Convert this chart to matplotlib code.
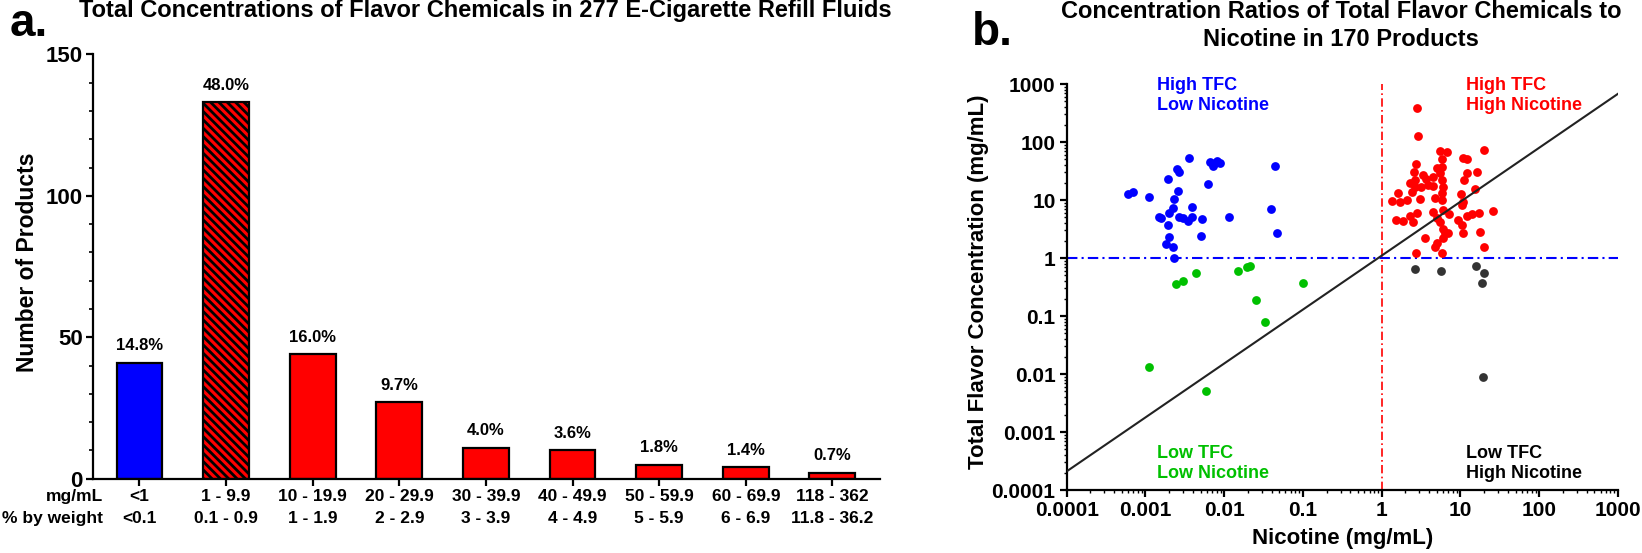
import matplotlib
matplotlib.use('Agg')
import matplotlib.pyplot as plt
import numpy as np
from matplotlib.ticker import FixedLocator, MultipleLocator, NullFormatter, LogLocator

plt.rcParams['font.family'] = ['Liberation Sans', 'DejaVu Sans']
plt.rcParams['font.weight'] = 'bold'
plt.rcParams['hatch.linewidth'] = 2.0

# ---------------- Panel a data ----------------
mg_labels = ['<1', '1 - 9.9', '10 - 19.9', '20 - 29.9', '30 - 39.9', '40 - 49.9',
             '50 - 59.9', '60 - 69.9', '118 - 362']
wt_labels = ['<0.1', '0.1 - 0.9', '1 - 1.9', '2 - 2.9', '3 - 3.9', '4 - 4.9',
             '5 - 5.9', '6 - 6.9', '11.8 - 36.2']
counts = [41, 133, 44, 27, 11, 10, 5, 4, 2]
pct_labels = ['14.8%', '48.0%', '16.0%', '9.7%', '4.0%', '3.6%', '1.8%', '1.4%', '0.7%']

# ---------------- Panel b data ----------------
blue_nic = [0.000605, 0.000702, 0.00111, 0.00192, 0.00254, 0.00269, 0.00357, 0.0066,
            0.00728, 0.00804, 0.00885, 0.00764, 0.0442, 0.00617, 0.00257, 0.00232,
            0.00222, 0.00201, 0.00386, 0.00149, 0.00157, 0.00269, 0.00303, 0.00344,
            0.00387, 0.00518, 0.0115, 0.0396, 0.0465, 0.00192, 0.00201, 0.00507,
            0.00181, 0.00224, 0.00232]
blue_tfc = [12.5, 13.7, 11.4, 23, 34.2, 30.7, 53.6, 44.6,
            38.6, 47, 44, 43, 39, 18.7, 14.3, 10.5,
            7.2, 5.9, 7.5, 5.04, 4.8, 5.15, 4.84, 4.4,
            5.04, 4.65, 5.04, 7.0, 2.67, 3.7, 2.28, 2.4,
            1.72, 1.55, 1.01]

green_nic = [0.00242, 0.00303, 0.00443, 0.0148, 0.0193, 0.0213, 0.0254, 0.033,
             0.00111, 0.00593, 0.1]
green_tfc = [0.356, 0.40, 0.56, 0.60, 0.69, 0.73, 0.189, 0.078,
             0.0131, 0.00504, 0.37]

black_nic = [2.62, 5.6, 15.7, 19.9, 18.6, 19.2]
black_tfc = [0.655, 0.59, 0.72, 0.55, 0.375, 0.009]

red_nic = [2.83, 2.86, 5.5, 6.7, 5.9, 10.7, 12.0, 20.1, 2.73, 2.57, 4.99, 5.78, 5.5,
           3.38, 2.65, 3.66, 4.53, 2.29, 2.65, 3.13, 3.91, 4.53, 5.78, 6.07, 12.0,
           11.2, 16.4, 15.3, 10.2, 5.78, 2.4, 2.08, 3.06, 4.75, 5.78, 1.71, 10.9,
           10.4, 2.78, 2.29, 4.53, 6.07, 7.2, 13.9, 17.2, 25.7, 12.0, 5.0, 1.88,
           2.52, 5.5, 9.4, 6.07, 10.4, 17.7, 10.9, 6.4, 7.0, 6.07, 3.55, 5.0, 4.75,
           20.1, 2.73, 5.78, 1.35, 1.5, 1.6]
red_tfc = [391, 125, 70, 68, 51, 54, 50, 72.8, 41.8, 30.8, 35.1, 37.6, 28.8,
           27, 22.1, 23, 25.2, 19.4, 17, 17, 18.2, 17.4, 22.1, 17, 28.8,
           22.1, 30, 15.3, 12.7, 13, 13.9, 10, 10.3, 10.7, 10, 9.4, 9.4,
           8.2, 5.9, 5.3, 6.3, 6.7, 5.7, 5.7, 5.9, 6.5, 5.2, 4.8, 4.3,
           4.1, 4.1, 4.5, 3.2, 3.7, 2.84, 2.73, 2.66, 2.66, 2.18, 2.18, 1.84, 1.57,
           1.57, 1.24, 1.24, 9.5, 4.6, 13]

# power-law guide line: TFC = fit_a * nicotine ** fit_b
fit_a = 1.1
fit_b = 0.93

x_ticks_b = [0.0001, 0.001, 0.01, 0.1, 1, 10, 100, 1000]
x_ticklabels_b = ['0.0001', '0.001', '0.01', '0.1', '1', '10', '100', '1000']

W, H = 1642, 553
fig = plt.figure(figsize=(W / 100, H / 100), dpi=100)

# ================= Panel a =================
axa = fig.add_axes([92.7 / W, 1 - 478.7 / H, (880 - 92.7) / W, (478.7 - 54.4) / H])
xpos = np.arange(len(counts))
bar_colors = ['#0000ff'] + ['#ff0000'] * (len(counts) - 1)
bars = axa.bar(xpos, counts, width=0.53, color=bar_colors, edgecolor='black',
               linewidth=1.6, zorder=2)
bars[1].set_hatch('\\\\\\\\')
for x, c, lab in zip(xpos, counts, pct_labels):
    axa.annotate(lab, (x, c), xytext=(0, 7), textcoords='offset points',
                 ha='center', va='bottom', fontsize=12, fontweight='bold')
axa.set_xlim(-0.54, 8.55)
axa.set_ylim(0, 150)
axa.spines['top'].set_visible(False)
axa.spines['right'].set_visible(False)
axa.spines['left'].set_linewidth(1.6)
axa.spines['bottom'].set_linewidth(1.6)
axa.yaxis.set_major_locator(FixedLocator([0, 50, 100, 150]))
axa.yaxis.set_minor_locator(MultipleLocator(10))
axa.tick_params(axis='y', which='major', labelsize=16, length=5, width=1.6, pad=2)
axa.tick_params(axis='y', which='minor', length=3, width=1.2)
axa.set_xticks(xpos)
axa.set_xticklabels([])
axa.tick_params(axis='x', which='major', length=5, width=1.6)
trans = axa.get_xaxis_transform()
row1_y = (478.7 - 496.7) / (478.7 - 54.4)
row2_y = (478.7 - 518.3) / (478.7 - 54.4)
for x, m, w in zip(xpos, mg_labels, wt_labels):
    axa.text(x, row1_y, m, transform=trans, ha='center', va='center', fontsize=12.5,
             fontweight='bold')
    axa.text(x, row2_y, w, transform=trans, ha='center', va='center', fontsize=12.5,
             fontweight='bold')
lab_x = (103 - 92.7) / (880 - 92.7)
axa.text(lab_x, row1_y, 'mg/mL', transform=axa.transAxes, ha='right', va='center',
         fontsize=12.5, fontweight='bold')
axa.text(lab_x, row2_y, '% by weight', transform=axa.transAxes, ha='right', va='center',
         fontsize=12.5, fontweight='bold')
fig.text(27 / W, 1 - 262 / H, 'Number of Products', rotation=90, ha='center',
         va='center', fontsize=16.5, fontweight='bold')
fig.text(485 / W, 1 - 17 / H, 'Total Concentrations of Flavor Chemicals in 277 E-Cigarette Refill Fluids',
         ha='center', va='baseline', fontsize=17, fontweight='bold')
fig.text(10 / W, 1 - 36 / H, 'a.', ha='left', va='baseline', fontsize=33, fontweight='bold')

# ================= Panel b =================
axb = fig.add_axes([1066.7 / W, 1 - 490 / H, (1618 - 1066.7) / W, (490 - 84) / H])
axb.set_xscale('log')
axb.set_yscale('log')
axb.set_xlim(1e-4, 1e3)
axb.set_ylim(1e-4, 1e3)
ms = 40
axb.scatter(blue_nic, blue_tfc, s=ms, color='#0000ff', linewidths=0, zorder=3)
axb.scatter(red_nic, red_tfc, s=ms, color='#ff0000', linewidths=0, zorder=3)
axb.scatter(green_nic, green_tfc, s=ms, color='#00c000', linewidths=0, zorder=3)
axb.scatter(black_nic, black_tfc, s=ms, color='#333333', linewidths=0, zorder=3)
xl = np.logspace(-4, 3, 100)
axb.plot(xl, fit_a * xl ** fit_b, color='#222222', lw=1.5, zorder=4)
axb.axvline(1, color='#ff0000', lw=1.2, ls=(0, (5, 2, 1, 2)), zorder=2)
axb.axhline(1, color='#0000ff', lw=1.5, ls=(0, (5, 2, 1, 2)), zorder=2)
axb.spines['top'].set_visible(False)
axb.spines['right'].set_visible(False)
axb.spines['left'].set_linewidth(1.6)
axb.spines['bottom'].set_linewidth(1.6)
for axis in (axb.xaxis, axb.yaxis):
    axis.set_major_locator(FixedLocator(x_ticks_b))
    axis.set_minor_locator(LogLocator(base=10, subs=np.arange(2, 10)))
    axis.set_minor_formatter(NullFormatter())
axb.set_xticklabels(x_ticklabels_b)
axb.set_yticklabels(x_ticklabels_b)
axb.tick_params(which='major', labelsize=15, length=5, width=1.6, pad=3)
axb.tick_params(which='minor', length=2.5, width=1.0)
for lbl in axb.get_xticklabels() + axb.get_yticklabels():
    lbl.set_fontweight('bold')
axb.set_xlabel('Nicotine (mg/mL)', fontsize=16, fontweight='bold', labelpad=6)
fig.text(978 / W, 1 - 282 / H, 'Total Flavor Concentration (mg/mL)', rotation=90,
         ha='center', va='center', fontsize=16, fontweight='bold')

qx_left = (1157 - 1066.7) / (1618 - 1066.7)
qx_right = (1465.7 - 1066.7) / (1618 - 1066.7)
top1 = (490 - 90) / 406
top2 = (490 - 110) / 406
bot1 = (490 - 458) / 406
bot2 = (490 - 478) / 406
quad = [(qx_left, top1, 'High TFC', '#0000ff'), (qx_left, top2, 'Low Nicotine', '#0000ff'),
        (qx_right, top1, 'High TFC', '#ff0000'), (qx_right, top2, 'High Nicotine', '#ff0000'),
        (qx_left, bot1, 'Low TFC', '#00c000'), (qx_left, bot2, 'Low Nicotine', '#00c000'),
        (qx_right, bot1, 'Low TFC', '#000000'), (qx_right, bot2, 'High Nicotine', '#000000')]
for qx, qy, t, c in quad:
    axb.text(qx, qy, t, transform=axb.transAxes, ha='left', va='baseline', color=c,
             fontsize=13, fontweight='bold', clip_on=False)

fig.text(1341 / W, 1 - 18 / H, 'Concentration Ratios of Total Flavor Chemicals to',
         ha='center', va='baseline', fontsize=17, fontweight='bold')
fig.text(1341 / W, 1 - 46 / H, 'Nicotine in 170 Products',
         ha='center', va='baseline', fontsize=17, fontweight='bold')
fig.text(972 / W, 1 - 45 / H, 'b.', ha='left', va='baseline', fontsize=33, fontweight='bold')

fig.savefig('out.png', dpi=100)
